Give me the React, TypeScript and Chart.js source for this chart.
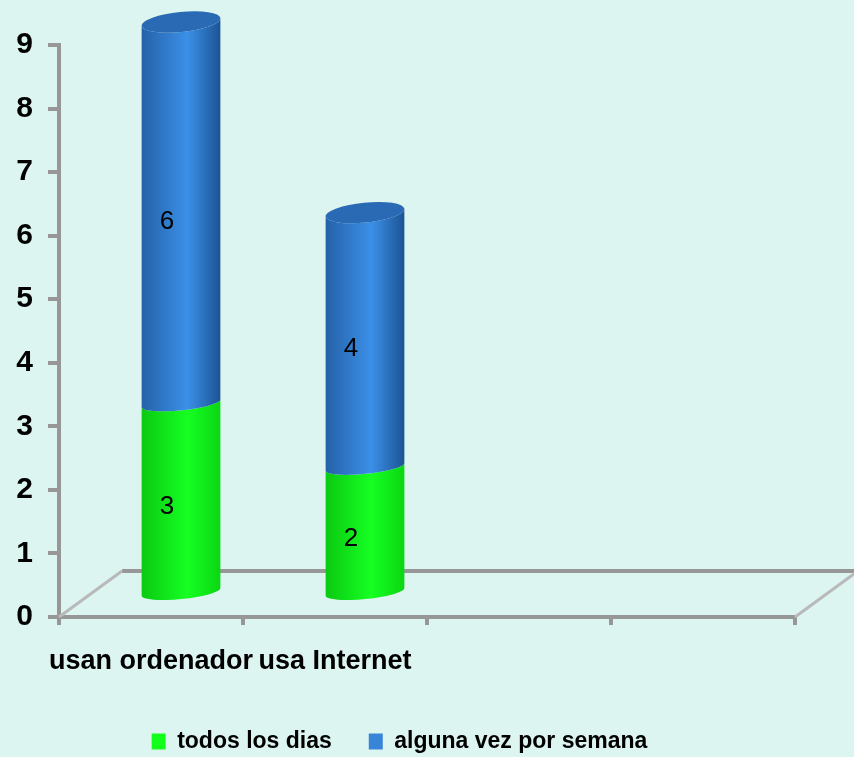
import React, { useEffect, useRef } from 'react';
import { Chart, registerables } from 'chart.js';

Chart.register(...registerables);

const categories = ['usan ordenador', 'usa Internet', '', ''];
const seriesNames = ['todos los dias', 'alguna vez por semana'];
const todosLosDias = [3, 2, null, null];
const algunaVezPorSemana = [6, 4, null, null];
const yMin = 0;
const yMax = 9;
const yStep = 1;

const FONT = '"Liberation Sans", Arial, sans-serif';
const BG = '#dcf5f0';
const AXIS = '#979797';
const FLOOR_DX = 63;
const FLOOR_DY = -46;
const BAR_DX = 30;
const BAR_DY = -23;
const RY_SIDE = 7;
const RY_TOP = 10;
const TILT = -0.1;

const palettes = [
  { edgeL: '#0bc912', mid: '#16ff22', edgeR: '#0ad612', top: '#10e818', legend: '#12ff1c' },
  { edgeL: '#2561a8', mid: '#3b90e8', edgeR: '#1c5394', top: '#2a6ab4', legend: '#3784d8' },
];

const cylinderPlugin = {
  id: 'cylinders',
  afterLayout(chart: any) {
    if (chart.legend) {
      chart.legend.top += 6;
      chart.legend.bottom += 6;
      chart.legend.left += 2;
      chart.legend.right += 2;
    }
  },
  beforeDatasetsDraw(chart: any) {
    const { ctx, chartArea } = chart;
    const ys = chart.scales.y;
    const y0 = ys.getPixelForValue(0);
    const l = chartArea.left;
    const r = chartArea.right;
    ctx.save();
    ctx.lineCap = 'butt';
    ctx.strokeStyle = AXIS;
    ctx.lineWidth = 4;
    ctx.beginPath();
    ctx.moveTo(l + FLOOR_DX, y0 + FLOOR_DY);
    ctx.lineTo(r + FLOOR_DX, y0 + FLOOR_DY);
    ctx.stroke();
    ctx.strokeStyle = '#b9b9b9';
    ctx.lineWidth = 3;
    ctx.beginPath();
    ctx.moveTo(l, y0);
    ctx.lineTo(l + FLOOR_DX, y0 + FLOOR_DY);
    ctx.moveTo(r, y0);
    ctx.lineTo(r + FLOOR_DX, y0 + FLOOR_DY);
    ctx.stroke();
    ctx.restore();
  },
  afterDatasetsDraw(chart: any) {
    const ctx = chart.ctx;
    const n = chart.data.labels.length;
    const count = chart.data.datasets.length;
    ctx.save();
    for (let j = 0; j < n; j++) {
      let topIdx = -1;
      for (let i = 0; i < count; i++) {
        if (chart.data.datasets[i].data[j] != null) topIdx = i;
      }
      for (let i = 0; i < count; i++) {
        const v = chart.data.datasets[i].data[j];
        if (v == null) continue;
        const bar = chart.getDatasetMeta(i).data[j];
        const cx = bar.x + BAR_DX;
        const hw = bar.width / 2;
        const top = bar.y + BAR_DY;
        const bot = bar.base + BAR_DY;
        const ryTop = i === topIdx ? RY_TOP : RY_SIDE;
        const p = palettes[i];
        const g = ctx.createLinearGradient(cx - hw, 0, cx + hw, 0);
        g.addColorStop(0, p.edgeL);
        g.addColorStop(0.58, p.mid);
        g.addColorStop(1, p.edgeR);
        ctx.beginPath();
        ctx.ellipse(cx, bot, hw, RY_SIDE, TILT, Math.PI, 0, true);
        ctx.ellipse(cx, top, hw, ryTop, TILT, 0, Math.PI, false);
        ctx.closePath();
        ctx.fillStyle = g;
        ctx.fill();
        if (i === topIdx) {
          ctx.beginPath();
          ctx.ellipse(cx, top, hw, RY_TOP, TILT, 0, Math.PI * 2);
          ctx.fillStyle = p.top;
          ctx.fill();
        }
      }
    }
    ctx.fillStyle = '#000';
    ctx.font = `26px ${FONT}`;
    ctx.textAlign = 'center';
    ctx.textBaseline = 'middle';
    for (let i = 0; i < count; i++) {
      const meta = chart.getDatasetMeta(i);
      chart.data.datasets[i].data.forEach((v: any, j: number) => {
        if (v == null) return;
        const bar = meta.data[j];
        ctx.fillText(String(v), bar.x + 16, (bar.y + bar.base) / 2 - 14);
      });
    }
    ctx.restore();
  },
};

export default function App() {
  const ref = useRef<HTMLCanvasElement | null>(null);
  useEffect(() => {
    if (!ref.current) return;
    const chart = new Chart(ref.current, {
      type: 'bar',
      data: {
        labels: categories,
        datasets: [
          { label: seriesNames[0], data: todosLosDias, backgroundColor: 'rgba(0,0,0,0)', borderWidth: 0 },
          { label: seriesNames[1], data: algunaVezPorSemana, backgroundColor: 'rgba(0,0,0,0)', borderWidth: 0 },
        ],
      },
      options: {
        responsive: false,
        animation: false,
        devicePixelRatio: 1,
        layout: { padding: { top: 45, left: 0, right: 59, bottom: 0 } },
        datasets: { bar: { barPercentage: 0.43, categoryPercentage: 1 } },
        plugins: {
          tooltip: { enabled: false },
          legend: {
            position: 'bottom',
            labels: {
              boxWidth: 14,
              boxHeight: 16,
              padding: 37,
              color: '#000',
              font: { family: FONT, size: 23, weight: 'bold' },
              generateLabels: (c: any) =>
                c.data.datasets.map((ds: any, i: number) => ({
                  text: ds.label,
                  fillStyle: palettes[i].legend,
                  strokeStyle: palettes[i].legend,
                  lineWidth: 0,
                  hidden: false,
                  datasetIndex: i,
                  fontColor: '#000',
                })),
            },
          },
        },
        scales: {
          x: {
            stacked: true,
            afterFit: (s: any) => { s.height = 70; },
            grid: { offset: true, drawOnChartArea: false, drawTicks: true, tickLength: 8, color: AXIS, lineWidth: 4 },
            border: { display: true, color: AXIS, width: 4 },
            ticks: {
              color: '#000',
              padding: 20,
              maxRotation: 0,
              minRotation: 0,
              autoSkip: false,
              font: { family: FONT, size: 27, weight: 'bold' },
            },
          },
          y: {
            stacked: true,
            min: yMin,
            max: yMax,
            afterFit: (s: any) => { s.width = 59; },
            grid: { drawOnChartArea: false, drawTicks: true, tickLength: 11, color: AXIS, lineWidth: 4 },
            border: { display: true, color: AXIS, width: 4 },
            ticks: {
              stepSize: yStep,
              color: '#000',
              padding: 15,
              font: { family: FONT, size: 30, weight: 'bold' },
            },
          },
        },
      },
      plugins: [cylinderPlugin],
    } as any);
    return () => chart.destroy();
  }, []);
  return (
    <div style={{ position: 'fixed', left: 0, top: 0, width: 854, height: 757, background: BG }}>
      <canvas ref={ref} width={854} height={757} />
    </div>
  );
}
